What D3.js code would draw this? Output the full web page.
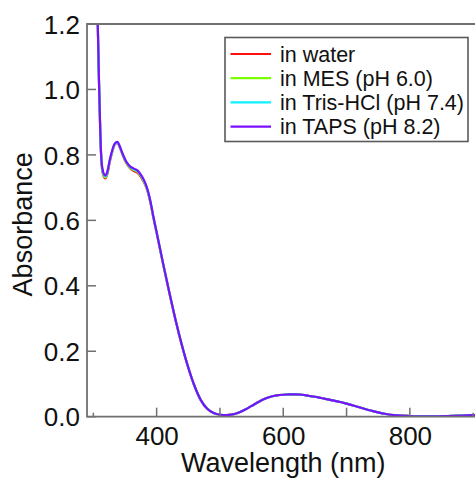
<!DOCTYPE html>
<html>
<head>
<meta charset="utf-8">
<script src="https://cdn.jsdelivr.net/npm/d3@7"></script>
<style>
  html, body { margin: 0; padding: 0; background: #fff; }
  svg { display: block; }
  text { font-family: "Liberation Sans", Arial, sans-serif; fill: #111; }
</style>
</head>
<body>
<svg id="chart" width="475" height="481"></svg>
<script>
// ---- data ----
const wavelengths = [305,307,309,311,313,316,319,322,326,330,334,338,342,347,352,358,364,370,375,380,385,390,395,400,410,420,430,440,450,460,470,480,490,500,510,520,530,540,550,560,570,580,590,600,610,620,630,640,650,660,670,680,690,700,720,740,760,780,800,820,840,860,880,900,910];

const absWater = [1.35,1.20,1.02,0.865,0.772,0.736,0.728,0.740,0.778,0.810,0.832,0.837,0.822,0.796,0.775,0.759,0.751,0.745,0.733,0.716,0.693,0.655,0.606,0.561,0.468,0.379,0.294,0.217,0.150,0.093,0.050,0.024,0.011,0.006,0.005,0.007,0.013,0.022,0.033,0.044,0.054,0.061,0.065,0.067,0.068,0.068,0.067,0.064,0.061,0.057,0.053,0.049,0.045,0.040,0.029,0.018,0.009,0.004,0.002,0.001,0.001,0.002,0.003,0.005,0.005];
const absMES = [1.35,1.20,1.02,0.867,0.775,0.739,0.731,0.743,0.781,0.812,0.833,0.838,0.823,0.798,0.777,0.761,0.754,0.748,0.736,0.719,0.695,0.657,0.608,0.562,0.469,0.380,0.295,0.218,0.150,0.093,0.050,0.024,0.011,0.006,0.005,0.007,0.013,0.022,0.033,0.044,0.054,0.061,0.065,0.067,0.068,0.068,0.067,0.064,0.061,0.057,0.053,0.049,0.045,0.040,0.029,0.018,0.009,0.004,0.002,0.001,0.001,0.002,0.003,0.005,0.005];
const absTris = [1.35,1.20,1.02,0.868,0.777,0.742,0.734,0.746,0.783,0.813,0.834,0.839,0.824,0.799,0.779,0.763,0.756,0.750,0.738,0.721,0.697,0.659,0.609,0.563,0.470,0.380,0.295,0.218,0.150,0.093,0.050,0.024,0.011,0.006,0.005,0.007,0.013,0.022,0.033,0.044,0.054,0.061,0.065,0.067,0.068,0.068,0.067,0.064,0.061,0.057,0.053,0.049,0.045,0.040,0.029,0.018,0.009,0.004,0.002,0.001,0.001,0.002,0.003,0.005,0.005];
const absTAPS = [1.35,1.20,1.02,0.870,0.780,0.745,0.737,0.748,0.785,0.815,0.835,0.840,0.825,0.800,0.780,0.765,0.758,0.752,0.740,0.723,0.698,0.660,0.610,0.564,0.470,0.380,0.295,0.218,0.150,0.093,0.050,0.024,0.011,0.006,0.005,0.007,0.013,0.022,0.033,0.044,0.054,0.061,0.065,0.067,0.068,0.068,0.067,0.064,0.061,0.057,0.053,0.049,0.045,0.040,0.029,0.018,0.009,0.004,0.002,0.001,0.001,0.002,0.003,0.005,0.005];

const seriesNames = ["in water", "in MES (pH 6.0)", "in Tris-HCl (pH 7.4)", "in TAPS (pH 8.2)"];
const seriesColors = ["#ff1010", "#7cff00", "#10f0ff", "#7a10ff"];
const seriesValues = [absWater, absMES, absTris, absTAPS];

const yTicks = [0, 0.2, 0.4, 0.6, 0.8, 1.0, 1.2];
const xMajorTicks = [400, 500, 600, 700, 800];
const xMinorTicks = [300, 900];
const xTickLabels = [400, 600, 800];

// ---- layout ----
const svg = d3.select("#chart");
const pLeft = 87, pTop = 24, pBottom = 416.7, pRight = 479.5;

const x = d3.scaleLinear().domain([290, 910]).range([pLeft, pRight]);
const y = d3.scaleLinear().domain([0, 1.2]).range([pBottom, pTop]);

svg.append("defs").append("clipPath").attr("id", "clip")
  .append("rect").attr("x", pLeft).attr("y", pTop).attr("width", pRight - pLeft).attr("height", pBottom - pTop);

const axisColor = "#707070";

// curves
const line = d3.line()
  .x((d, i) => x(wavelengths[i]))
  .y(d => y(d))
  .curve(d3.curveMonotoneX);

const g = svg.append("g").attr("clip-path", "url(#clip)");
seriesValues.forEach((vals, k) => {
  g.append("path")
    .datum(vals)
    .attr("d", line)
    .attr("fill", "none")
    .attr("stroke", seriesColors[k])
    .attr("stroke-width", 2.2)
    .attr("stroke-linejoin", "round");
});

// left axis (ticks inward)
const yAxis = d3.axisLeft(y).tickValues(yTicks).tickFormat(d3.format(".1f")).tickSize(0).tickPadding(7);
const ya = svg.append("g").attr("transform", `translate(${pLeft},0)`).call(yAxis);
ya.select(".domain").remove();
ya.selectAll("text").style("font-size", "26px").attr("fill", "#111").attr("dy", "0.35em");
svg.append("g").selectAll("line").data(yTicks.filter(t => t < 1.2)).join("line")
  .attr("x1", pLeft).attr("x2", pLeft + 9)
  .attr("y1", d => y(d)).attr("y2", d => y(d))
  .attr("stroke", axisColor).attr("stroke-width", 1.5);

// bottom axis labels
const xAxis = d3.axisBottom(x).tickValues(xTickLabels).tickFormat(d3.format("d")).tickSize(0).tickPadding(10);
const xa = svg.append("g").attr("transform", `translate(0,${pBottom})`).call(xAxis);
xa.select(".domain").remove();
xa.selectAll("text").style("font-size", "26px").attr("fill", "#111").attr("dy", "0.71em");

svg.append("g").selectAll("line").data(xMajorTicks).join("line")
  .attr("x1", d => x(d)).attr("x2", d => x(d))
  .attr("y1", pBottom).attr("y2", pBottom - 9)
  .attr("stroke", axisColor).attr("stroke-width", 1.5);
svg.append("g").selectAll("line").data(xMinorTicks).join("line")
  .attr("x1", d => x(d)).attr("x2", d => x(d))
  .attr("y1", pBottom).attr("y2", pBottom - 4)
  .attr("stroke", axisColor).attr("stroke-width", 1.5);

// frame lines (left, top, bottom)
svg.append("path")
  .attr("d", `M${pRight},${pTop}H${pLeft}V${pBottom}H${pRight}`)
  .attr("fill", "none").attr("stroke", axisColor).attr("stroke-width", 1.8);

// axis titles
svg.append("text")
  .attr("x", x(600)).attr("y", 472)
  .attr("text-anchor", "middle")
  .style("font-size", "27px")
  .text("Wavelength (nm)");
svg.append("text")
  .attr("transform", `translate(32,${(pTop + pBottom) / 2 + 4}) rotate(-90)`)
  .attr("text-anchor", "middle")
  .style("font-size", "27px")
  .text("Absorbance");

// legend
const lg = svg.append("g");
lg.append("rect")
  .attr("x", 225).attr("y", 37.5).attr("width", 243).attr("height", 104)
  .attr("fill", "#fff").attr("stroke", "#5a5a5a").attr("stroke-width", 1.6);
seriesNames.forEach((name, k) => {
  const cy = 54 + k * 24.2;
  lg.append("line")
    .attr("x1", 230.5).attr("x2", 271).attr("y1", cy).attr("y2", cy)
    .attr("stroke", seriesColors[k]).attr("stroke-width", 2.2);
  lg.append("text")
    .attr("x", 280).attr("y", cy + 7.5)
    .style("font-size", "21.5px")
    .text(name);
});
</script>
</body>
</html>
